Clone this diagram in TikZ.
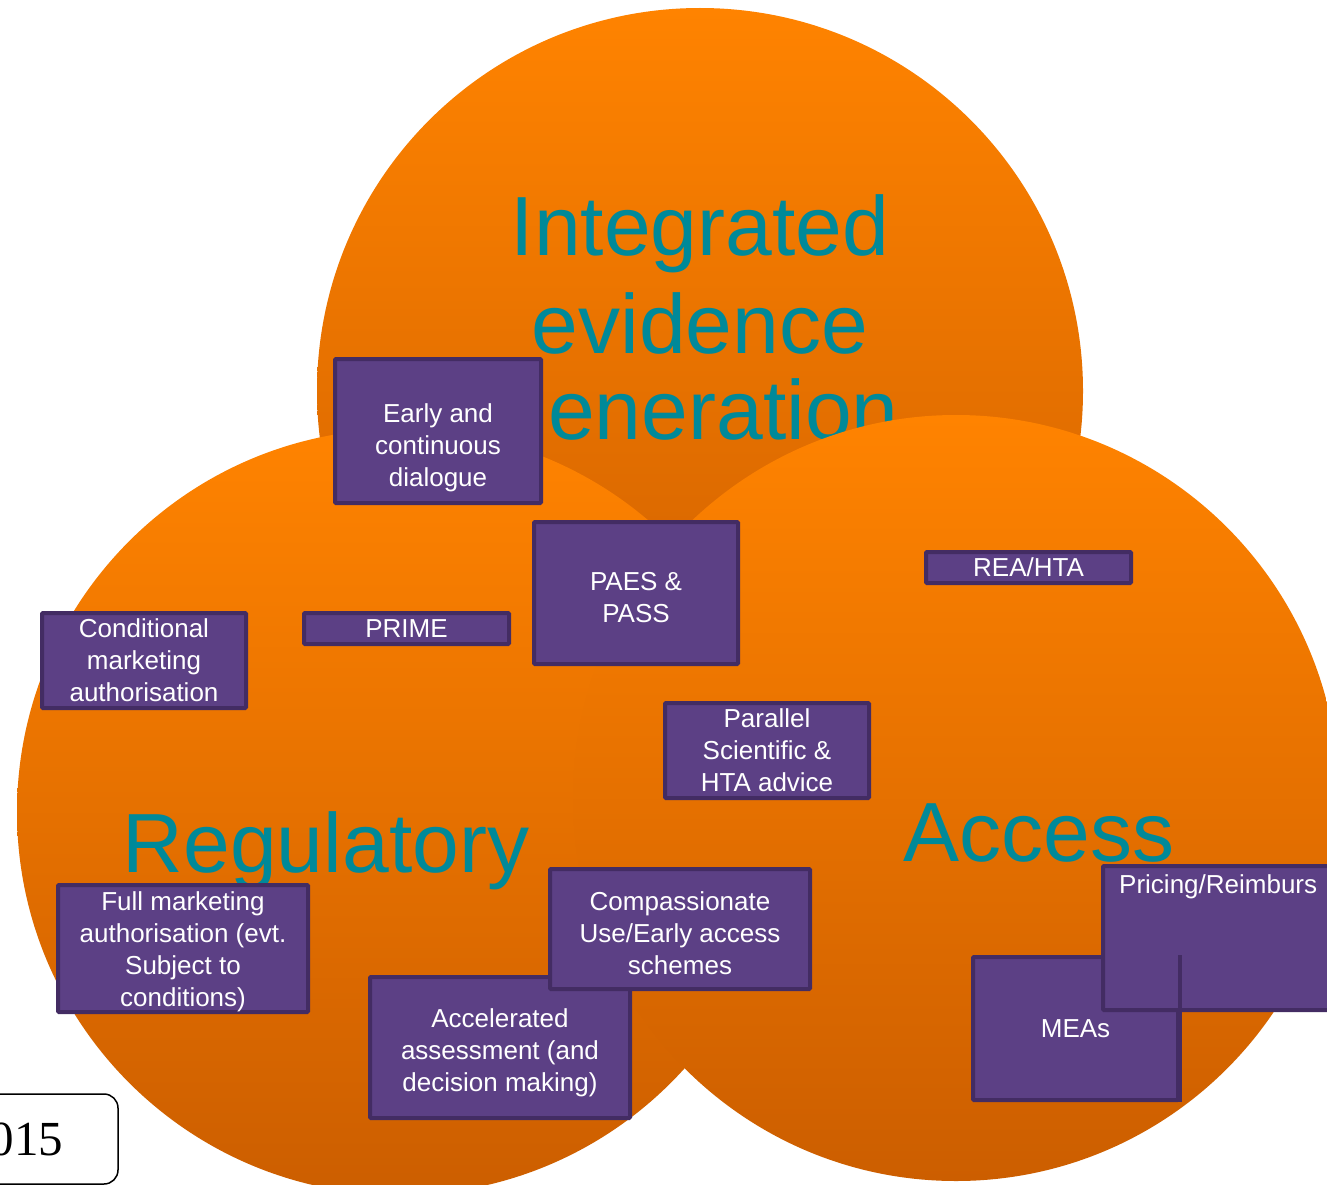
\documentclass[tikz,border=0pt]{standalone}
\usepackage{fontspec}
\setmainfont{Liberation Sans}
\newfontfamily\yearfont{Liberation Serif}
\usetikzlibrary{
arrows.meta,
backgrounds,
calc,
positioning,
shapes
}
\tikzset{>=latex}

\definecolor{orangetop}{RGB}{255,131,0}
\definecolor{orangebot}{RGB}{204,94,0}
\definecolor{headteal}{RGB}{0,137,153}
\definecolor{panelfill}{RGB}{92,64,133}
\definecolor{panelline}{RGB}{67,44,99}

\tikzset{
	bubble/.style={top color=orangetop, bottom color=orangebot},
	heading/.style={text=headteal, inner sep=0pt, font=\fontsize{84}{92}\selectfont},
	panel/.style={draw=panelline, fill=panelfill, line width=4pt, rounded corners=1pt, text=white, align=center, inner sep=0pt, font=\fontsize{26}{32}\selectfont},
	stamp/.style={draw=black, fill=white, line width=1.5pt, rounded corners=14pt, inner sep=0pt, font=\yearfont\fontsize{49}{56}\selectfont}
}

\begin{document}
\begin{tikzpicture}[x=1pt, y=-1pt]
	\useasboundingbox (0,0) rectangle (1327,1185);
	\clip (0,0) rectangle (1327,1185);

	% three overlapping circles
	\shade[bubble] (700,391) circle[radius=383pt];
	\node[heading, align=center, anchor=north] (integrated) at (700,194) {Integrated\\[6pt]evidence\\[-6pt]\phantom{g}eneration};
	\shade[bubble] (400,812) circle[radius=383pt];
	\shade[bubble] (956,798) circle[radius=383pt];
	\node[heading, anchor=base] (regulatory) at (326,872) {Regulatory};
	\node[heading, anchor=base] (access) at (1039,861) {Access};

	% boxes
	\node[panel, minimum width=206pt, minimum height=144pt] (early) at (438,431) {\rule{0pt}{53pt}Early and\\continuous\\dialogue};
	\node[panel, minimum width=204pt, minimum height=142pt] (paes) at (636,593) {\rule{0pt}{27pt}PAES \&\\PASS};
	\node[panel, minimum width=205pt, minimum height=31pt] (prime) at (406.5,628.5) {PRIME};
	\node[panel, minimum width=204pt, minimum height=95pt] (conditional) at (144,660.5) {Conditional\\marketing\\authorisation};
	\node[panel, minimum width=205pt, minimum height=31pt] (rea) at (1028.5,567.5) {REA/HTA};
	\node[panel, minimum width=204pt, minimum height=95pt] (parallel) at (767,750.5) {Parallel\\Scientific \&\\HTA advice};
	\node[panel, minimum width=250pt, minimum height=127pt] (full) at (183,948.5) {\rule{0pt}{25pt}Full marketing\\authorisation (evt.\\Subject to\\conditions)};
	\node[panel, minimum width=260pt, minimum height=141pt] (accelerated) at (500,1047.5) {\rule{0pt}{29pt}Accelerated\\assessment (and\\decision making)};
	\node[panel, minimum width=260pt, minimum height=120pt] (compassionate) at (680,929) {\rule{0pt}{27pt}Compassionate\\Use/Early access\\schemes};
	\node[panel, minimum width=205pt, minimum height=143pt] (meas) at (1075.5,1028.5) {MEAs};
	\node[panel, minimum width=235pt, minimum height=144pt,
		label={[anchor=north west, text=white, inner sep=0pt, font=\fontsize{26}{32}\selectfont, xshift=18pt, yshift=-10pt]north west:Pricing/Reimburs}] (pricing) at (1220.5,938) {};
	\draw[panelline, line width=4pt] (meas.north east) -- (meas.south east);

	\node[stamp, minimum width=183pt, minimum height=90pt] (year) at (26.5,1139) {015};
\end{tikzpicture}
\end{document}
